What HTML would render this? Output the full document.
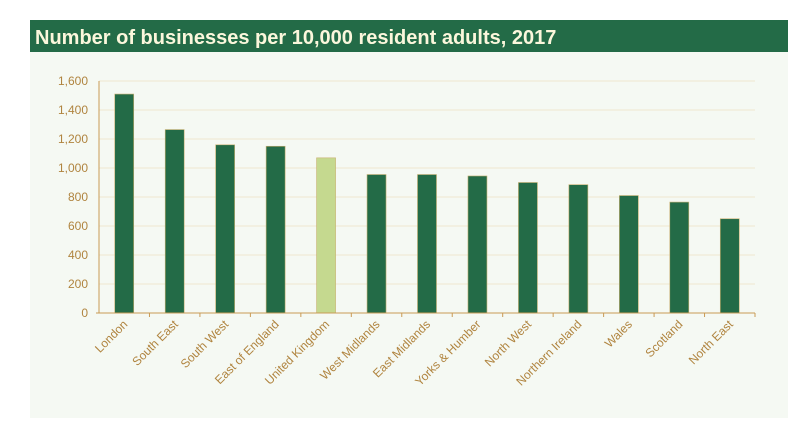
<!DOCTYPE html><html><head><style>body{margin:0;background:#fff;width:800px;height:424px;overflow:hidden}</style></head><body>
<svg width="800" height="424" xmlns="http://www.w3.org/2000/svg" font-family="Liberation Sans, sans-serif">
<rect x="30" y="52" width="758" height="366" fill="#f5f9f3"/>
<rect x="30" y="20" width="758" height="32" fill="#236b47"/>
<text x="35" y="44" font-size="20" font-weight="bold" fill="#fbf7dc">Number of businesses per 10,000 resident adults, 2017</text>
<g stroke="#eee6cf" stroke-width="1">
<line x1="99" x2="755" y1="81" y2="81"/><line x1="99" x2="755" y1="110" y2="110"/><line x1="99" x2="755" y1="139" y2="139"/><line x1="99" x2="755" y1="168" y2="168"/><line x1="99" x2="755" y1="197" y2="197"/><line x1="99" x2="755" y1="226" y2="226"/><line x1="99" x2="755" y1="255" y2="255"/><line x1="99" x2="755" y1="284" y2="284"/>
</g>
<g font-size="12" fill="#b0843f" text-anchor="end">
<text x="88" y="85">1,600</text><text x="88" y="114">1,400</text><text x="88" y="143">1,200</text><text x="88" y="172">1,000</text><text x="88" y="201">800</text><text x="88" y="230">600</text><text x="88" y="259">400</text><text x="88" y="288">200</text><text x="88" y="317">0</text>
</g>
<g id="bars" stroke="#c8b070" stroke-width="0.6"></g>
<line x1="99" x2="99" y1="81" y2="313" stroke="#c99a55"/>
<line x1="96" x2="755" y1="313" y2="313" stroke="#c99a55"/>
<g id="ticks" stroke="#c99a55"></g>
<g id="labels" font-size="12" fill="#b0843f" text-anchor="end"></g>
<script>
var n=["London","South East","South West","East of England","United Kingdom","West Midlands","East Midlands","Yorks & Humber","North West","Northern Ireland","Wales","Scotland","North East"];
var v=[1510,1265,1160,1150,1070,955,955,945,900,885,810,765,650];
var ns="http://www.w3.org/2000/svg",b=document.getElementById("bars"),t=document.getElementById("ticks"),l=document.getElementById("labels");
var w=656/13;
for(var i=0;i<13;i++){var c=99+w*(i+0.5),h=v[i]*0.145;
var r=document.createElementNS(ns,"rect");r.setAttribute("x",c-9.5);r.setAttribute("y",313-h);r.setAttribute("width",19);r.setAttribute("height",h);r.setAttribute("fill",i==4?"#c5d98f":"#236b47");b.appendChild(r);
var k=document.createElementNS(ns,"line");var tx=99+w*(i+1);k.setAttribute("x1",tx);k.setAttribute("x2",tx);k.setAttribute("y1",313);k.setAttribute("y2",317);t.appendChild(k);
var s=document.createElementNS(ns,"text");s.setAttribute("transform","translate("+(c+4)+",325) rotate(-45)");s.textContent=n[i];l.appendChild(s);}
</script>
</svg></body></html>
